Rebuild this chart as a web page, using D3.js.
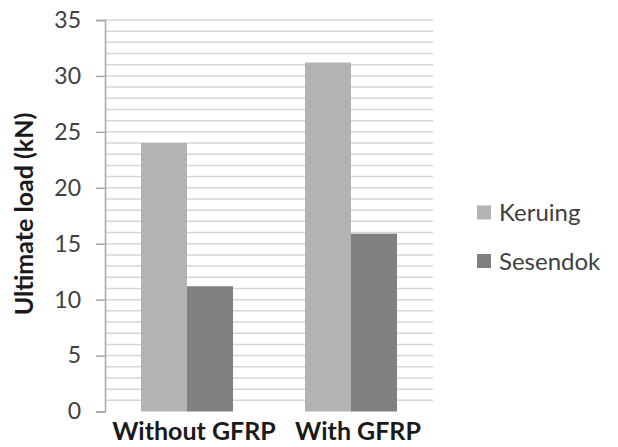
<!DOCTYPE html>
<html>
<head>
<meta charset="utf-8">
<script src="https://cdn.jsdelivr.net/npm/d3@7"></script>
<style>
  html, body { margin: 0; padding: 0; background: #fff; }
  svg { display: block; font-family: Lato, "Open Sans", sans-serif; }
</style>
</head>
<body>
<svg id="chart" width="618" height="447"></svg>
<script>
// Ultimate load per specimen group and timber species
const categories = ["Without GFRP", "With GFRP"];
const seriesNames = ["Keruing", "Sesendok"];
const keruing = [24.0, 31.2];
const sesendok = [11.2, 15.9];
const yTicks = [0, 5, 10, 15, 20, 25, 30, 35];
const colors = ["#b3b3b3", "#808080"];

const seriesValues = [keruing, sesendok];
const rows = categories.map((c, i) => ({
  category: c,
  values: seriesNames.map((s, j) => ({ key: s, value: seriesValues[j][i] }))
}));

const svg = d3.select("#chart");
const plot = { left: 105, right: 433, top: 20, bottom: 411.5 };

const x0 = d3.scaleBand()
  .domain(categories)
  .range([plot.left, plot.right])
  .paddingInner(0.439)
  .paddingOuter(0.2195);

const x1 = d3.scaleBand()
  .domain(seriesNames)
  .range([0, x0.bandwidth()]);

const y = d3.scaleLinear()
  .domain([0, 35])
  .range([plot.bottom, plot.top]);

const color = d3.scaleOrdinal().domain(seriesNames).range(colors);

// Horizontal gridlines at every unit
svg.append("g")
  .selectAll("line")
  .data(d3.range(1, 36))
  .join("line")
  .attr("x1", plot.left)
  .attr("x2", plot.right)
  .attr("y1", d => y(d))
  .attr("y2", d => y(d))
  .attr("stroke", "#d6d6d6")
  .attr("stroke-width", 1.5);

// Bars
svg.append("g")
  .selectAll("g")
  .data(rows)
  .join("g")
  .attr("transform", d => `translate(${x0(d.category)},0)`)
  .selectAll("rect")
  .data(d => d.values)
  .join("rect")
  .attr("x", d => x1(d.key))
  .attr("width", x1.bandwidth())
  .attr("y", d => y(d.value))
  .attr("height", d => y(0) - y(d.value))
  .attr("fill", d => color(d.key));

// Y axis
const yAxis = svg.append("g")
  .attr("transform", `translate(${plot.left},0)`)
  .call(d3.axisLeft(y).tickValues(yTicks).tickSize(9).tickPadding(15).tickFormat(d3.format("d")));
yAxis.select(".domain").attr("stroke", "#a6a6a6").attr("stroke-width", 1.5);
yAxis.selectAll(".tick line").attr("stroke", "#a6a6a6").attr("stroke-width", 1.5);
yAxis.selectAll(".tick text")
  .attr("fill", "#404040")
  .style("font-size", "23px")
  .style("font-family", "Lato, sans-serif");

// X axis labels
const xAxis = svg.append("g")
  .attr("transform", `translate(0,${plot.bottom})`)
  .call(d3.axisBottom(x0).tickSize(0).tickPadding(11));
xAxis.select(".domain").remove();
xAxis.selectAll(".tick text")
  .attr("dx", 7)
  .attr("fill", "#1a1a1a")
  .style("font-size", "25px")
  .style("font-weight", "bold")
  .style("font-family", "Lato, sans-serif");

// Y axis title
svg.append("text")
  .attr("transform", `translate(33,214) rotate(-90)`)
  .attr("text-anchor", "middle")
  .attr("fill", "#1a1a1a")
  .style("font-size", "25px")
  .style("font-weight", "bold")
  .text("Ultimate load (kN)");

// Legend
const legend = svg.append("g")
  .selectAll("g")
  .data(seriesNames)
  .join("g")
  .attr("transform", (d, i) => `translate(477,${212.5 + i * 48.5})`);
legend.append("rect")
  .attr("x", 0)
  .attr("y", -7)
  .attr("width", 14)
  .attr("height", 14)
  .attr("fill", d => color(d));
legend.append("text")
  .attr("x", 22)
  .attr("y", 0)
  .attr("dy", "0.36em")
  .attr("fill", "#404040")
  .style("font-size", "24px")
  .text(d => d);
</script>
</body>
</html>
